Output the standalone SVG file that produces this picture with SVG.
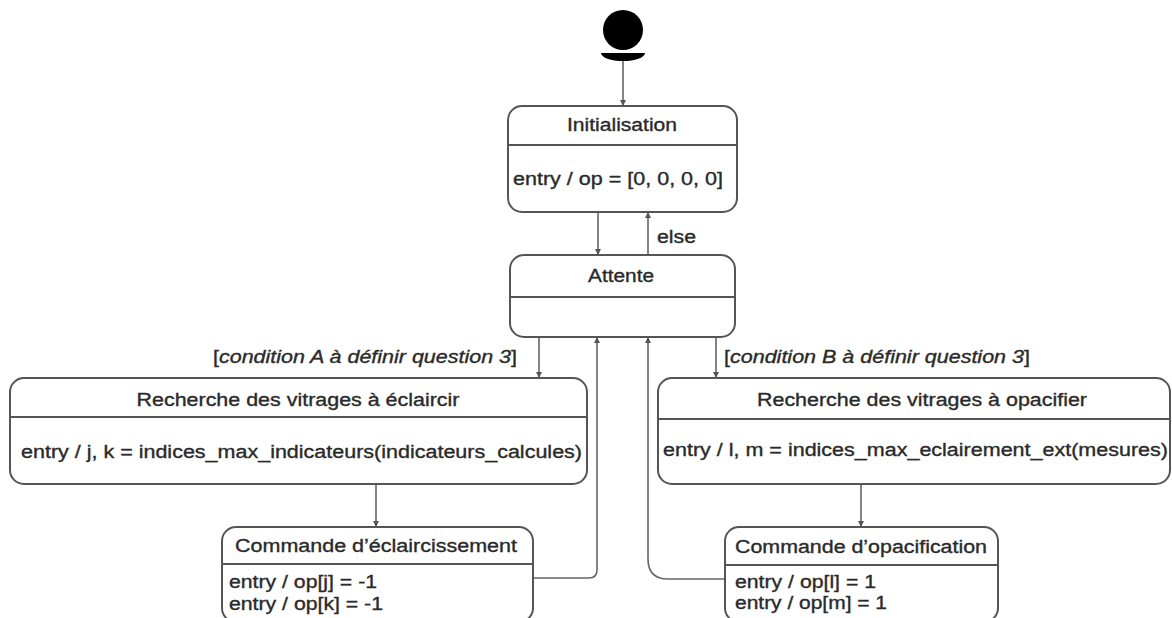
<svg xmlns="http://www.w3.org/2000/svg" width="1172" height="618" viewBox="0 0 1172 618">
<defs>
<style>
.box{fill:#fff;stroke:#555;stroke-width:2}
.div{stroke:#555;stroke-width:2}
.t{font-family:"Liberation Sans",Arial,sans-serif;font-size:18px;fill:#2a2a2a;stroke:#2a2a2a;stroke-width:0.35}
.c{text-anchor:middle}
.i{font-style:italic}
.ln{fill:none;stroke:#666;stroke-width:1.6}
</style>
<marker id="ah" viewBox="0 0 10 10" refX="10" refY="5" markerWidth="6" markerHeight="6" markerUnits="userSpaceOnUse" orient="auto">
<path d="M0,0 L10,5 L0,10 Z" fill="#555"/>
</marker>
</defs>
<rect width="1172" height="618" fill="#fff"/>
<g id="start">
<circle cx="623" cy="30" r="20" fill="#000"/>
<path d="M601,53 L645,53 A22,8 0 0 1 601,53 Z" fill="#000"/>
</g>
<g id="connectors">
<line class="ln" x1="623" y1="61" x2="623" y2="106" marker-end="url(#ah)"/>
<line class="ln" x1="598" y1="212" x2="598" y2="255" marker-end="url(#ah)"/>
<line class="ln" x1="648" y1="255" x2="648" y2="212" marker-end="url(#ah)"/>
<line class="ln" x1="539" y1="337" x2="539" y2="378" marker-end="url(#ah)"/>
<line class="ln" x1="716" y1="337" x2="716" y2="378" marker-end="url(#ah)"/>
<line class="ln" x1="376" y1="484" x2="376" y2="527" marker-end="url(#ah)"/>
<line class="ln" x1="861" y1="484" x2="861" y2="527" marker-end="url(#ah)"/>
<path class="ln" d="M533,578 L589,578 Q597,578 597,570 L597,337" marker-end="url(#ah)"/>
<path class="ln" d="M725,579 L668,579 Q648,579 648,559 L648,337" marker-end="url(#ah)"/>
<text class="t" x="657" y="243" textLength="39" lengthAdjust="spacingAndGlyphs">else</text>
<text class="t" x="213" y="363" textLength="304" lengthAdjust="spacingAndGlyphs">[<tspan class="i">condition A à définir question 3</tspan>]</text>
<text class="t" x="724" y="363" textLength="306" lengthAdjust="spacingAndGlyphs">[<tspan class="i">condition B à définir question 3</tspan>]</text>
</g>
<g id="initialisation">
<rect class="box" x="508" y="106" width="229" height="106" rx="14"/>
<line class="div" x1="508" y1="145" x2="737" y2="145"/>
<text class="t c" x="622" y="131" textLength="110" lengthAdjust="spacingAndGlyphs">Initialisation</text>
<text class="t" x="513" y="185" textLength="210" lengthAdjust="spacingAndGlyphs">entry / op = [0, 0, 0, 0]</text>
</g>
<g id="attente">
<rect class="box" x="510" y="255" width="225" height="82" rx="14"/>
<line class="div" x1="510" y1="297" x2="735" y2="297"/>
<text class="t c" x="621" y="282" textLength="66" lengthAdjust="spacingAndGlyphs">Attente</text>
</g>
<g id="recherche-eclaircir">
<rect class="box" x="10" y="378" width="577" height="106" rx="14"/>
<line class="div" x1="10" y1="417" x2="587" y2="417"/>
<text class="t c" x="298" y="406" textLength="323" lengthAdjust="spacingAndGlyphs">Recherche des vitrages à éclaircir</text>
<text class="t" x="21" y="458" textLength="561" lengthAdjust="spacingAndGlyphs">entry / j, k = indices_max_indicateurs(indicateurs_calcules)</text>
</g>
<g id="recherche-opacifier">
<rect class="box" x="658" y="378" width="512" height="106" rx="14"/>
<line class="div" x1="658" y1="419" x2="1170" y2="419"/>
<text class="t c" x="922" y="406" textLength="330" lengthAdjust="spacingAndGlyphs">Recherche des vitrages à opacifier</text>
<text class="t" x="663" y="456" textLength="505" lengthAdjust="spacingAndGlyphs">entry / l, m = indices_max_eclairement_ext(mesures)</text>
</g>
<g id="commande-eclaircissement">
<rect class="box" x="222" y="527" width="311" height="95" rx="14"/>
<line class="div" x1="222" y1="564" x2="533" y2="564"/>
<text class="t c" x="376" y="552" textLength="282" lengthAdjust="spacingAndGlyphs">Commande d’éclaircissement</text>
<text class="t" x="229" y="588" textLength="148" lengthAdjust="spacingAndGlyphs">entry / op[j] = -1</text>
<text class="t" x="229" y="610" textLength="154" lengthAdjust="spacingAndGlyphs">entry / op[k] = -1</text>
</g>
<g id="commande-opacification">
<rect class="box" x="725" y="527" width="273" height="95" rx="14"/>
<line class="div" x1="725" y1="565" x2="998" y2="565"/>
<text class="t c" x="861" y="553" textLength="252" lengthAdjust="spacingAndGlyphs">Commande d’opacification</text>
<text class="t" x="735" y="588" textLength="141" lengthAdjust="spacingAndGlyphs">entry / op[l] = 1</text>
<text class="t" x="735" y="609" textLength="152" lengthAdjust="spacingAndGlyphs">entry / op[m] = 1</text>
</g>
</svg>
